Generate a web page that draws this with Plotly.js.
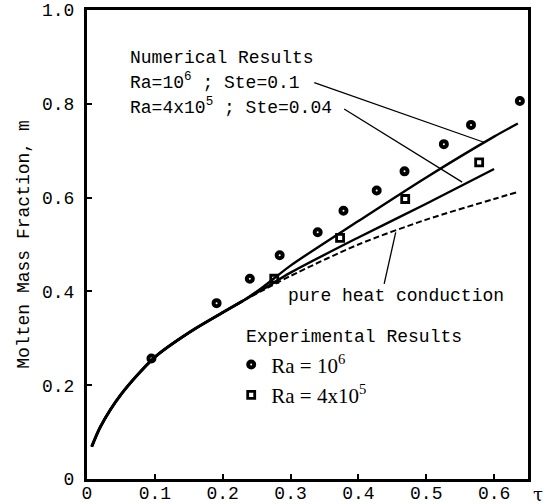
<!DOCTYPE html>
<html>
<head>
<meta charset="utf-8">
<script src="https://cdn.plot.ly/plotly-3.0.1.min.js"></script>
<style>html,body{margin:0;padding:0;background:#fff;}#chart{width:550px;height:504px;}</style>
</head>
<body>
<div id="chart"></div>
<script>
// Shared early-time trunk of the numerical curves
const trunkTau = [0.007, 0.02, 0.05, 0.1, 0.15, 0.2, 0.23];
const trunkM   = [0.069, 0.112, 0.18, 0.26, 0.312, 0.355, 0.38];
// Numerical, Ra=1e6, Ste=0.1 (branch after trunk)
const numRa6Tau = [0.26, 0.3, 0.4, 0.5, 0.6, 0.635];
const numRa6M   = [0.41, 0.455, 0.55, 0.643, 0.73, 0.758];
// Numerical, Ra=4e5, Ste=0.04
const numRa4Tau = [0.26, 0.3, 0.4, 0.5, 0.6];
const numRa4M   = [0.405, 0.44, 0.515, 0.587, 0.661];
// Pure heat conduction
const condTau = [0.26, 0.3, 0.4, 0.5, 0.6, 0.635];
const condM   = [0.403, 0.433, 0.50, 0.553, 0.597, 0.612];
// Experimental results
const expRa6Tau = [0.095, 0.191, 0.240, 0.284, 0.340, 0.378, 0.427, 0.468, 0.526, 0.566, 0.638];
const expRa6M   = [0.257, 0.375, 0.427, 0.477, 0.526, 0.572, 0.615, 0.656, 0.714, 0.755, 0.806];
const expRa4Tau = [0.276, 0.373, 0.469, 0.578];
const expRa4M   = [0.427, 0.514, 0.597, 0.675];
// Ticks
const xTickVals = [0, 0.1, 0.2, 0.3, 0.4, 0.5, 0.6];
const xTickText = ['0', '0.1', '0.2', '0.3', '0.4', '0.5', '0.6'];
const yTickVals = [0, 0.2, 0.4, 0.6, 0.8, 1.0];
const yTickText = ['0', '0.2', '0.4', '0.6', '0.8', '1.0'];

const mono = 'Liberation Mono, Courier New, monospace';
const serif = 'Liberation Serif, Times New Roman, serif';

function curve(tx, ty, dash, w) {
  return {
    x: trunkTau.concat(tx), y: trunkM.concat(ty), mode: 'lines', showlegend: false,
    line: {color: '#000', width: w, dash: dash, shape: 'spline', smoothing: 0.8},
    hoverinfo: 'skip'
  };
}

const traces = [
  curve(condTau, condM, '6px,3px', 2),
  curve(numRa4Tau, numRa4M, 'solid', 2.4),
  curve(numRa6Tau, numRa6M, 'solid', 2.4),
  {x: trunkTau, y: trunkM, mode: 'lines', showlegend: false,
   line: {color: '#000', width: 3, shape: 'spline', smoothing: 0.8}},
  {x: expRa6Tau, y: expRa6M, mode: 'markers', name: 'Ra = 10<sup>6</sup>',
   marker: {symbol: 'circle-open', size: 6, color: '#000', line: {width: 4, color: '#000'}}},
  {x: expRa4Tau, y: expRa4M, mode: 'markers', name: 'Ra = 4x10<sup>5</sup>',
   marker: {symbol: 'square-open', size: 7, color: '#000', line: {width: 2.8, color: '#000'}}}
];

const ann = (text, x, y, extra) => Object.assign({
  text: text, x: x, y: y, xref: 'x', yref: 'y', xanchor: 'left', yanchor: 'middle',
  showarrow: false, font: {family: mono, size: 18, color: '#000'}
}, extra || {});

const layout = {
  width: 550, height: 504,
  margin: {l: 87, r: 22, t: 10, b: 25},
  paper_bgcolor: '#fff', plot_bgcolor: '#fff',
  showlegend: true,
  legend: {x: 0.327, y: 0.287, xanchor: 'left', yanchor: 'top', bgcolor: 'rgba(0,0,0,0)',
           itemwidth: 30, font: {family: serif, size: 21, color: '#000'}, tracegroupgap: 0},
  xaxis: {range: [0, 0.65], tickvals: xTickVals, ticktext: xTickText, ticks: 'inside', ticklen: 5,
          tickwidth: 2, tickcolor: '#000', showline: true, linewidth: 3, linecolor: '#000', mirror: true,
          showgrid: false, zeroline: false, ticklabelstandoff: -5,
          tickfont: {family: mono, size: 18, color: '#000'}},
  yaxis: {range: [0, 1.0], tickvals: yTickVals, ticktext: yTickText, ticks: 'inside', ticklen: 5,
          tickwidth: 2, tickcolor: '#000', showline: true, linewidth: 3, linecolor: '#000', mirror: true,
          showgrid: false, zeroline: false, ticklabelstandoff: 6,
          tickfont: {family: mono, size: 18, color: '#000'},
          title: {text: 'Molten Mass Fraction, m', font: {family: mono, size: 18, color: '#000'}, standoff: 8}},
  annotations: [
    ann('Numerical Results', 0.060, 0.898),
    ann('Ra=10<sup>6</sup> ; Ste=0.1', 0.060, 0.847),
    ann('Ra=4x10<sup>5</sup> ; Ste=0.04', 0.060, 0.794),
    ann('pure heat conduction', 0.294, 0.391),
    ann('Experimental Results', 0.232, 0.302),
    {text: 'τ', x: 1.022, y: -0.033, xref: 'paper', yref: 'paper', xanchor: 'center', yanchor: 'middle',
     showarrow: false, font: {family: 'DejaVu Serif, serif', size: 18, color: '#000'}}
  ],
  shapes: [
    {type: 'line', xref: 'x', yref: 'y', x0: 0.335, y0: 0.845, x1: 0.585, y1: 0.718, line: {color: '#000', width: 1.3}},
    {type: 'line', xref: 'x', yref: 'y', x0: 0.379, y0: 0.789, x1: 0.553, y1: 0.633, line: {color: '#000', width: 1.3}},
    {type: 'line', xref: 'x', yref: 'y', x0: 0.438, y0: 0.416, x1: 0.455, y1: 0.526, line: {color: '#000', width: 1.3}}
  ]
};

Plotly.newPlot('chart', traces, layout, {displayModeBar: false, staticPlot: true});
</script>
</body>
</html>
